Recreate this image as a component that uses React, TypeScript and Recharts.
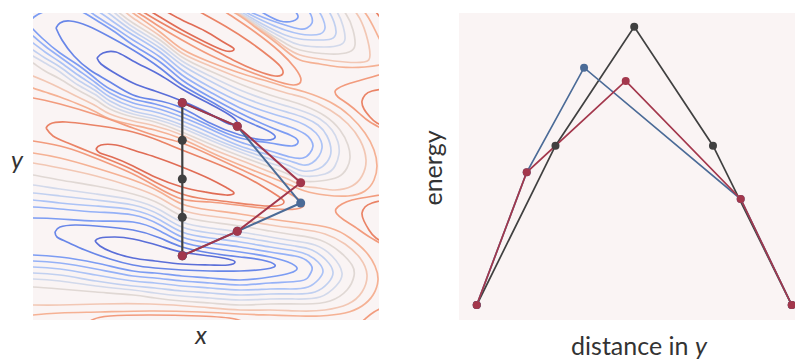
import { CartesianGrid, Line, LineChart, XAxis, YAxis } from "recharts";

type Pt = [number, number];

// ---- left panel: contour lines (x to the right, y downward) ----
// blue basin, top-left, levels 1..10
const b1: Pt[] = [[97,58],[103,53],[116,52],[133,61],[160,75],[182,89],[210,104],[228,114],[237,122],[229,124],[210,114],[182,101],[155,91],[133,83],[113,72],[101,64],[97,58]];
const b2: Pt[] = [[56,28],[60,23],[70,21],[88,26],[110,37],[133,50],[160,68],[182,85],[210,101],[240,118],[262,128],[275,136],[266,140],[240,135],[210,123],[182,108],[155,100],[133,95],[110,82],[90,70],[74,56],[62,40],[56,28]];
const b3: Pt[] = [[29,25],[34,17],[46,11],[62,8],[80,11],[96,20],[115,32],[133,45],[160,62],[182,80],[210,97],[240,113],[270,127],[290,135],[298,141],[292,146],[270,143],[240,138],[210,126],[182,113],[155,104],[133,99],[110,89],[96,79],[78,65],[60,53],[42,38],[29,25]];
const b4: Pt[] = [[75,0],[96,16],[115,28],[133,40],[160,57],[182,75],[210,92],[240,108],[270,120],[290,127],[305,134],[311,140],[313,146],[310,153],[303,158],[290,157],[270,151],[240,142],[210,129],[182,117],[155,108],[133,103],[110,93],[96,83],[78,70],[60,57],[45,46],[33,36],[25,31]];
const b5: Pt[] = [[70,-4],[96,10],[115,23],[133,35],[160,52],[182,70],[210,87],[240,102],[270,113],[290,119],[305,125],[316,133],[321,141],[322,148],[319,156],[312,163],[303,165],[290,161],[270,155],[240,146],[210,133],[182,121],[155,112],[133,107],[110,97],[96,87],[78,75],[60,62],[45,52],[33,43],[25,39]];
const b6: Pt[] = [[80,-6],[96,4],[115,18],[133,31],[160,48],[182,65],[210,81],[240,96],[270,107],[290,113],[305,118],[318,125],[327,136],[331,151],[327,162],[318,169],[303,171],[290,166],[270,159],[240,149],[210,137],[182,125],[155,116],[133,111],[110,101],[96,91],[78,80],[60,67],[45,58],[33,50],[25,46]];
const b7: Pt[] = [[95,-5],[115,13],[133,27],[160,44],[182,61],[210,76],[240,90],[270,101],[290,107],[305,112],[320,119],[332,130],[338,142],[339,154],[335,166],[325,174],[303,176],[290,170],[270,163],[240,152],[210,140],[182,128],[155,119],[133,114],[110,105],[96,95],[78,85],[60,72],[45,63],[33,56],[25,52]];
const b8: Pt[] = [[100,-5],[115,9],[133,23],[160,40],[182,57],[210,71],[240,84],[270,95],[290,101],[305,106],[325,116],[340,130],[348,145],[350,158],[347,168],[338,177],[320,181],[303,181],[290,175],[270,167],[240,156],[210,144],[182,132],[155,122],[133,117],[110,109],[96,100],[78,90],[60,79],[45,71],[33,63],[25,59]];
const b9: Pt[] = [[105,-5],[120,7],[133,18],[160,36],[182,53],[210,66],[240,78],[270,88],[290,94],[305,98],[330,110],[348,124],[360,140],[366,160],[362,176],[352,186],[335,190],[318,188],[303,186],[290,180],[270,172],[240,160],[210,148],[182,135],[155,126],[133,121],[110,114],[96,106],[78,97],[60,88],[45,81],[33,76],[25,73]];
const b10: Pt[] = [[110,-5],[123,5],[133,13],[160,32],[182,49],[210,62],[240,73],[270,82],[290,88],[305,92],[330,102],[350,116],[365,133],[374,150],[377,166],[374,180],[365,191],[348,196],[325,195],[305,191],[290,185],[270,177],[240,165],[210,152],[182,139],[155,130],[133,125],[110,119],[96,112],[78,104],[60,97],[45,92],[33,88],[25,86]];

// blue basin at the bottom
const d1: Pt[] = [[95,241],[100,238],[115,237],[133,239],[160,246],[182,252],[210,256],[228,259],[235,262],[228,265],[210,265],[182,264],[155,261],[133,258],[112,252],[100,246],[95,241]];
const d2: Pt[] = [[55,232],[60,227],[75,225],[96,226],[133,230],[160,238],[182,247],[210,253],[240,257],[262,260],[275,265],[266,269],[240,271],[210,271],[182,270],[155,268],[133,265],[110,259],[85,250],[67,242],[57,237],[55,232]];
const d3: Pt[] = [[25,218],[33,218],[60,219],[96,221],[133,222],[160,231],[182,242],[210,248],[240,252],[270,257],[288,262],[297,268],[290,273],[270,277],[240,280],[210,278],[182,276],[155,273],[133,271],[96,263],[60,257],[33,255],[25,255]];
const d4: Pt[] = [[25,207],[33,207],[60,209],[96,212],[133,215],[160,225],[182,237],[210,243],[240,247],[270,252],[295,256],[306,260],[311,265],[312,270],[309,276],[300,281],[270,283],[240,285],[210,283],[182,281],[155,278],[133,276],[96,269],[60,263],[33,261],[25,261]];
const d5: Pt[] = [[25,200],[33,200],[60,203],[96,206],[133,210],[160,220],[182,232],[210,238],[240,242],[270,247],[295,251],[308,255],[318,262],[323,271],[319,279],[308,287],[290,289],[270,289],[240,290],[210,288],[182,286],[155,283],[133,281],[96,275],[60,269],[33,267],[25,267]];
const d6: Pt[] = [[25,193],[33,193],[60,196],[96,200],[133,205],[160,215],[182,227],[210,233],[240,237],[270,242],[295,246],[312,250],[326,260],[333,272],[328,283],[315,292],[295,294],[270,294],[240,295],[210,293],[182,291],[155,288],[133,286],[96,281],[60,275],[33,273],[25,273]];
const d7: Pt[] = [[25,185],[33,185],[60,189],[96,194],[133,200],[160,210],[182,222],[210,228],[240,232],[270,237],[295,241],[315,245],[332,256],[342,273],[336,286],[320,297],[295,299],[270,299],[240,300],[210,298],[182,296],[155,293],[133,290],[96,286],[60,281],[33,279],[25,279]];
const d8: Pt[] = [[25,175],[33,175],[60,180],[96,186],[133,194],[160,204],[182,216],[210,222],[240,226],[270,231],[295,235],[320,240],[340,252],[352,265],[354,276],[347,290],[330,301],[305,304],[270,304],[240,305],[210,303],[182,301],[155,298],[133,295],[96,292],[60,289],[33,287],[25,287]];
const d9: Pt[] = [[25,162],[33,163],[60,168],[96,176],[133,187],[160,198],[182,210],[210,216],[240,220],[270,225],[300,229],[325,234],[345,244],[360,258],[367,275],[362,292],[348,304],[325,310],[300,311],[270,310],[240,310],[200,307],[150,304],[100,304],[60,305],[33,305],[25,305]];
const d10: Pt[] = [[25,152],[33,153],[60,158],[96,168],[133,180],[160,192],[182,204],[210,210],[240,214],[270,219],[300,223],[330,228],[350,238],[366,252],[375,266],[378,280],[373,295],[362,306],[345,313],[320,316],[300,316],[270,315],[240,314],[200,312],[150,311],[100,312],[60,313],[33,315],[25,316]];

// blue tongues along the top edge
const t3: Pt[] = [[282,-2],[292,8],[298,16],[293,21],[280,21],[265,14],[250,5],[240,-2]];
const t4: Pt[] = [[298,-2],[306,8],[311,15],[312,23],[307,28],[300,29],[285,25],[270,20],[255,14],[240,7],[225,0]];
const t5: Pt[] = [[308,-2],[318,10],[323,19],[325,28],[320,34],[310,35],[300,34],[285,30],[270,24],[255,17],[240,9],[222,-1]];
const t6: Pt[] = [[318,-2],[328,10],[334,22],[336,33],[331,39],[318,40],[300,39],[285,35],[270,28],[255,20],[240,11],[220,-1]];
const t7: Pt[] = [[325,-2],[337,12],[343,26],[345,39],[340,45],[325,47],[300,45],[285,39],[270,31],[255,22],[240,13],[218,0]];
const t8: Pt[] = [[332,-2],[346,14],[353,30],[355,45],[349,52],[330,54],[300,50],[285,43],[270,34],[255,24],[240,14],[216,0]];
const t9: Pt[] = [[342,-2],[357,14],[366,34],[370,55],[364,62],[345,62],[320,59],[300,55],[285,47],[270,36],[255,26],[240,15],[214,0]];
const t10: Pt[] = [[352,-2],[366,14],[376,32],[386,52],[390,60],[384,64],[365,67],[340,67],[320,64],[300,60],[285,50],[270,38],[255,27],[240,16],[212,0]];

// red ridges
const r0a: Pt[] = [[205,-2],[230,15],[255,32],[280,52],[295,68],[301,80],[293,85],[270,79],[240,68],[210,55],[182,40],[160,27],[140,14],[120,2]];
const r0b: Pt[] = [[175,-2],[200,12],[225,26],[250,42],[270,57],[280,66],[283,73],[275,76],[255,70],[235,61],[210,48],[182,34],[160,22],[140,10],[122,-2]];
const r0c: Pt[] = [[140,-2],[160,8],[182,20],[205,31],[225,43],[234,49],[226,51],[205,42],[182,30],[160,17],[140,5],[128,-2]];
const r1a: Pt[] = [[25,98],[33,98],[60,104],[100,116],[133,128],[160,137],[182,143],[210,155],[240,169],[270,183],[292,195],[304,204],[296,209],[275,209],[245,206],[210,202],[182,199],[155,186],[133,174],[110,164],[85,154],[60,146],[33,141],[25,140]];
const r1b: Pt[] = [[46,128],[50,124],[66,122],[100,126],[133,132],[160,141],[182,150],[210,161],[240,174],[262,186],[278,196],[284,202],[276,206],[255,205],[230,202],[205,199],[182,194],[155,182],[133,170],[110,160],[90,152],[68,143],[53,136],[46,128]];
const r1c: Pt[] = [[96,149],[101,145],[116,145],[133,150],[155,157],[182,167],[210,179],[227,188],[234,193],[226,195],[205,192],[182,187],[155,177],[133,166],[112,157],[100,153],[96,149]];
const r2a: Pt[] = [[392,71],[372,77],[358,81],[345,85],[337,89],[335,92],[338,97],[348,104],[360,114],[370,122],[392,134]];
const r2b: Pt[] = [[392,88],[372,91],[365,95],[362,101],[364,109],[370,117],[377,123],[392,130]];
const r3a: Pt[] = [[392,193],[368,197],[352,200],[342,204],[336,209],[337,214],[344,220],[355,227],[368,236],[392,250]];
const r3b: Pt[] = [[392,198],[372,203],[365,207],[362,213],[364,221],[369,230],[376,238],[392,248]];
const r4a: Pt[] = [[80,330],[92,320],[110,316],[150,315],[200,316],[235,319],[250,326]];
const r5a: Pt[] = [[352,330],[364,320],[374,312],[392,303]];
const r6b: Pt[] = [[366,-2],[376,12],[390,30]];

const contours: { pts: Pt[]; level: number }[] = [
  { pts: b1, level: 1 }, { pts: b2, level: 2 }, { pts: b3, level: 3 }, { pts: b4, level: 4 }, { pts: b5, level: 5 },
  { pts: b6, level: 6 }, { pts: b7, level: 7 }, { pts: b8, level: 8 }, { pts: b9, level: 9 }, { pts: b10, level: 10 },
  { pts: d1, level: 1 }, { pts: d2, level: 2 }, { pts: d3, level: 3 }, { pts: d4, level: 4 }, { pts: d5, level: 5 },
  { pts: d6, level: 6 }, { pts: d7, level: 7 }, { pts: d8, level: 8 }, { pts: d9, level: 9 }, { pts: d10, level: 10 },
  { pts: t3, level: 3 }, { pts: t4, level: 4 }, { pts: t5, level: 5 }, { pts: t6, level: 6 },
  { pts: t7, level: 7 }, { pts: t8, level: 8 }, { pts: t9, level: 9 }, { pts: t10, level: 10 },
  { pts: r0a, level: 11 }, { pts: r0b, level: 12 }, { pts: r0c, level: 13 },
  { pts: r1a, level: 11 }, { pts: r1b, level: 12 }, { pts: r1c, level: 13 },
  { pts: r2a, level: 11 }, { pts: r2b, level: 12 }, { pts: r3a, level: 11 }, { pts: r3b, level: 12 },
  { pts: r4a, level: 11 }, { pts: r5a, level: 11 }, { pts: r6b, level: 12 },
];

const levelColors = ["#5a6ed8", "#6886e8", "#7c9cf3", "#95b1f7", "#acc3f6", "#c1d0f0", "#d2d9eb", "#e0d8d4", "#f2c7b4", "#f5b194", "#f29b7d", "#ea8366", "#e06c55"];

// paths drawn over the contours
const chainX = [182.3, 182.3, 182.3, 182.3, 182.3];
const chainY = [102.7, 140.3, 179, 217.3, 255.7];
const nebX = [182.3, 237.3, 300.7, 237.3, 182.3];
const nebY = [102.7, 126.3, 203, 231.3, 255.7];
const climbX = [182.3, 237.3, 300.7, 237.3, 182.3];
const climbY = [102.7, 126.3, 182.7, 231.3, 255.7];

// ---- right panel: energy along the path ----
const distChain = [0, 1, 2, 3, 4];
const energyChain = [0.15, 1.743, 2.933, 1.743, 0.15];
const distNeb = [0, 0.635, 1.363, 3.352, 4];
const energyNeb = [0.15, 1.477, 2.523, 1.21, 0.15];
const distClimb = [0, 0.635, 1.892, 3.352, 4];
const energyClimb = [0.15, 1.477, 2.39, 1.21, 0.15];

const BLACK = "#404040";
const BLUE = "#4b6b97";
const RED = "#a3374c";
const BG = "#faf4f4";

const toXY = (xs: number[], ys: number[]) => xs.map((x, i) => ({ x, y: ys[i] }));

export default function App() {
  const chain = toXY(chainX, chainY);
  const neb = toXY(nebX, nebY);
  const climb = toXY(climbX, climbY);
  const eChain = toXY(distChain, energyChain);
  const eNeb = toXY(distNeb, energyNeb);
  const eClimb = toXY(distClimb, energyClimb);
  const font = "Lato, 'Noto Sans', sans-serif";
  return (
    <div style={{ position: "absolute", left: 0, top: 0, width: 795, height: 359, overflow: "hidden", background: "#fff" }}>
      <div style={{ position: "absolute", left: 0, top: 0 }}>
        <LineChart width={400} height={359} margin={{ top: 13, right: 21, bottom: 39, left: 33 }}>
          <CartesianGrid horizontal={false} vertical={false} fill={BG} fillOpacity={1} stroke="none" />
          <XAxis type="number" dataKey="x" domain={[33, 379]} allowDataOverflow hide />
          <YAxis type="number" dataKey="y" domain={[13, 320]} reversed allowDataOverflow hide />
          {contours.map((c, i) => (
            <Line
              key={`c${i}`}
              data={c.pts.map(([x, y]) => ({ x, y }))}
              dataKey="y"
              type="natural"
              stroke={levelColors[c.level - 1]}
              strokeWidth={1.7}
              dot={false}
              activeDot={false}
              isAnimationActive={false}
            />
          ))}
          <Line data={chain} dataKey="y" type="linear" stroke={BLACK} strokeWidth={2.2} dot={{ r: 4.5, fill: BLACK, stroke: BLACK, strokeWidth: 0 }} activeDot={false} isAnimationActive={false} />
          <Line data={neb} dataKey="y" type="linear" stroke={BLUE} strokeWidth={2} dot={{ r: 4.5, fill: BLUE, stroke: BLUE, strokeWidth: 0 }} activeDot={false} isAnimationActive={false} />
          <Line data={climb} dataKey="y" type="linear" stroke={RED} strokeWidth={2} dot={{ r: 4.5, fill: RED, stroke: RED, strokeWidth: 0 }} activeDot={false} isAnimationActive={false} />
        </LineChart>
      </div>
      <div style={{ position: "absolute", left: 440, top: 0 }}>
        <LineChart width={372} height={359} margin={{ top: 13, right: 2, bottom: 39, left: 19 }}>
          <CartesianGrid horizontal={false} vertical={false} fill={BG} fillOpacity={1} stroke="none" />
          <XAxis type="number" dataKey="x" domain={[-0.225, 4.232]} allowDataOverflow hide />
          <YAxis type="number" dataKey="y" domain={[0, 3.07]} allowDataOverflow hide />
          <Line data={eChain} dataKey="y" type="linear" stroke={BLACK} strokeWidth={1.7} dot={{ r: 4, fill: BLACK, stroke: BLACK, strokeWidth: 0 }} activeDot={false} isAnimationActive={false} />
          <Line data={eNeb} dataKey="y" type="linear" stroke={BLUE} strokeWidth={1.7} dot={{ r: 4, fill: BLUE, stroke: BLUE, strokeWidth: 0 }} activeDot={false} isAnimationActive={false} />
          <Line data={eClimb} dataKey="y" type="linear" stroke={RED} strokeWidth={1.7} dot={{ r: 4, fill: RED, stroke: RED, strokeWidth: 0 }} activeDot={false} isAnimationActive={false} />
        </LineChart>
      </div>
      <svg width={795} height={359} style={{ position: "absolute", left: 0, top: 0, pointerEvents: "none" }}>
        <g fill="#333" fontFamily={font} fontSize={25}>
          <text x={17} y={169} textAnchor="middle" fontStyle="italic">y</text>
          <text x={201} y={344} textAnchor="middle" fontStyle="italic">x</text>
          <text transform="translate(442,168) rotate(-90)" textAnchor="middle">energy</text>
          <text x={639} y={355} textAnchor="middle">
            distance in <tspan fontStyle="italic">y</tspan>
          </text>
        </g>
      </svg>
    </div>
  );
}
